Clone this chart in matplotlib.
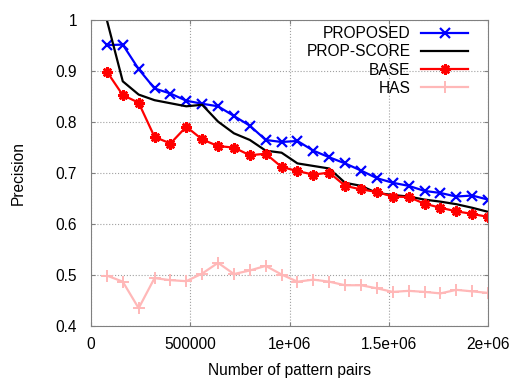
import matplotlib
matplotlib.use("Agg")
import matplotlib.pyplot as plt
from matplotlib.ticker import FixedLocator

plt.rcParams['font.family'] = ['Liberation Sans', 'DejaVu Sans']

# number of pattern pairs (80000 steps)
pairs = [80000 * k for k in range(1, 26)]

proposed = [0.951, 0.952, 0.904, 0.866, 0.856, 0.842, 0.836, 0.831, 0.812, 0.793,
            0.765, 0.761, 0.763, 0.744, 0.731, 0.719, 0.705, 0.690, 0.681, 0.675,
            0.665, 0.661, 0.654, 0.656, 0.648]
prop_score = [1.0, 0.880, 0.854, 0.843, 0.837, 0.831, 0.834, 0.801, 0.778, 0.765,
              0.744, 0.740, 0.719, 0.714, 0.709, 0.681, 0.675, 0.661, 0.657, 0.654,
              0.648, 0.644, 0.639, 0.632, 0.624]
base = [0.899, 0.853, 0.838, 0.771, 0.758, 0.791, 0.766, 0.753, 0.750, 0.735,
        0.738, 0.712, 0.704, 0.697, 0.701, 0.675, 0.668, 0.663, 0.654, 0.653,
        0.640, 0.632, 0.625, 0.620, 0.614]
has = [0.499, 0.487, 0.435, 0.494, 0.490, 0.488, 0.503, 0.524, 0.502, 0.509,
       0.518, 0.501, 0.487, 0.491, 0.487, 0.480, 0.480, 0.474, 0.467, 0.469,
       0.467, 0.464, 0.471, 0.468, 0.465]

x_ticks = [0, 500000, 1000000, 1500000, 2000000]
x_labels = ["0", "500000", "1e+06", "1.5e+06", "2e+06"]
y_ticks = [0.4, 0.5, 0.6, 0.7, 0.8, 0.9, 1.0]
y_labels = ["0.4", "0.5", "0.6", "0.7", "0.8", "0.9", "1"]

fs = 11.2

fig = plt.figure(figsize=(5.15, 3.8), dpi=100)
ax = fig.add_axes([0.1767, 0.142, 0.771, 0.805])

lw = 1.6
ax.plot(pairs, proposed, color='#0000ff', lw=lw, marker='x', ms=6.5, mew=1.6, label='PROPOSED')
ax.plot(pairs, prop_score, color='black', lw=lw, label='PROP-SCORE')
ax.plot(pairs, base, color='#ff0000', lw=lw, marker=(8, 2, 0), ms=7.5, mew=1.8, label='BASE')
ax.plot(pairs, has, color='#ffb8b8', lw=lw, marker='+', ms=8, mew=1.4, label='HAS')

ax.set_xlim(0, 2000000)
ax.set_ylim(0.4, 1.0)
ax.xaxis.set_major_locator(FixedLocator(x_ticks))
ax.set_xticklabels(x_labels)
ax.yaxis.set_major_locator(FixedLocator(y_ticks))
ax.set_yticklabels(y_labels)
ax.tick_params(direction='in', top=True, right=True, labelsize=fs, length=3,
               color='#808080')
ax.tick_params(axis='x', pad=8)
ax.tick_params(axis='y', pad=10)
for s in ax.spines.values():
    s.set_color('#808080')
    s.set_linewidth(0.8)
ax.grid(True, linestyle=':', color='#a0a0a0', lw=0.8)

ax.set_xlabel("Number of pattern pairs", fontsize=fs, va='center')
ax.set_ylabel("Precision", fontsize=fs, va='center')
ax.xaxis.set_label_coords(0.5, -0.146)
ax.yaxis.set_label_coords(-0.184, 0.5)

ax.legend(loc='upper right', frameon=False, markerfirst=False, fontsize=fs,
          handlelength=3.0, handletextpad=0.7, labelspacing=0.2,
          borderaxespad=0.0, bbox_to_anchor=(0.965, 1.0))

fig.savefig("out.png", dpi=100)
